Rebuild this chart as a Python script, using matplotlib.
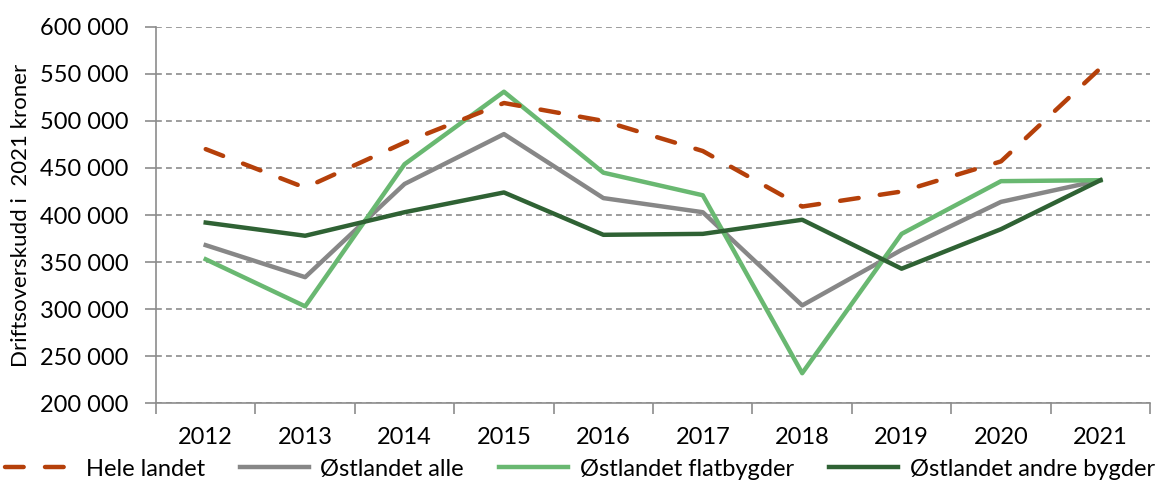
import matplotlib
matplotlib.use("Agg")
import matplotlib.pyplot as plt
from matplotlib.ticker import FuncFormatter

plt.rcParams['font.family'] = ['Lato', 'DejaVu Sans']

years = ["2012", "2013", "2014", "2015", "2016", "2017", "2018", "2019", "2020", "2021"]
hele_landet = [470000, 429000, 477000, 519000, 500000, 468000, 409000, 425000, 457000, 556000]
ostlandet_alle = [368000, 334000, 433000, 486000, 418000, 403000, 304000, 363000, 414000, 437000]
ostlandet_flat = [353000, 303000, 454000, 531000, 445000, 421000, 232000, 380000, 436000, 437000]
ostlandet_andre = [392000, 378000, 403000, 424000, 379000, 380000, 395000, 343000, 385000, 437000]
series_names = ["Hele landet", "Østlandet alle", "Østlandet flatbygder", "Østlandet andre bygder"]
y_ticks = [200000, 250000, 300000, 350000, 400000, 450000, 500000, 550000, 600000]

fig = plt.figure(figsize=(11.6, 4.84), dpi=100)
ax = fig.add_axes([0.1345, 0.1667, 0.857, 0.778])

x = list(range(len(years)))
ax.plot(x, hele_landet, color="#B5400A", lw=3.2, linestyle=(0, (4.2, 4.8)),
        dash_capstyle="round", label=series_names[0], zorder=5)
ax.plot(x, ostlandet_alle, color="#878787", lw=3.2, label=series_names[1], zorder=3)
ax.plot(x, ostlandet_flat, color="#69B871", lw=3.2, label=series_names[2], zorder=4)
ax.plot(x, ostlandet_andre, color="#2F6234", lw=3.2, label=series_names[3], zorder=4)

ax.set_xlim(-0.5, len(years) - 0.5)
ax.set_ylim(200000, 600000)
ax.set_yticks(y_ticks)
ax.yaxis.set_major_formatter(FuncFormatter(lambda v, p: f"{int(v):,}".replace(",", " ")))
ax.set_xticks(x)
ax.set_xticklabels(years)
ax.set_xticks([i - 0.5 for i in range(len(years) + 1)], minor=True)
ax.tick_params(axis="x", which="major", length=0, labelsize=17, pad=17)
ax.tick_params(axis="x", which="minor", length=8, width=1.2, color="#8c8c8c")
ax.tick_params(axis="y", length=8, width=1.2, color="#8c8c8c", labelsize=17, pad=12)

ax.grid(axis="y", color="#8c8c8c", linestyle=(0, (3.5, 2.5)), lw=1.2)
ax.set_axisbelow(True)
for s in ["top", "right"]:
    ax.spines[s].set_visible(False)
for s in ["left", "bottom"]:
    ax.spines[s].set_color("#8c8c8c")
    ax.spines[s].set_linewidth(1.2)

ax.set_ylabel("Driftsoverskudd i  2021 kroner", fontsize=16)
ax.yaxis.set_label_coords(-0.126, 0.5)

leg = fig.legend(loc="lower center", bbox_to_anchor=(0.5, -0.035), ncol=4, frameon=False,
                 fontsize=17, handlelength=2.9, handletextpad=0.5, columnspacing=1.5)

fig.savefig("out.png", dpi=100)
